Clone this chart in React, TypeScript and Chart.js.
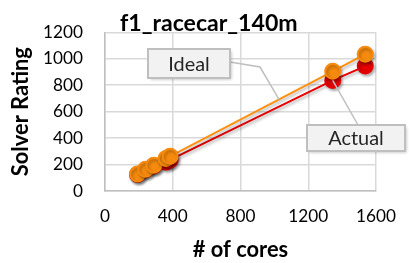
import React, { useEffect, useRef } from "react";
import { Chart, registerables } from "chart.js";

Chart.register(...registerables);

const cores = [192, 240, 288, 360, 384, 1344, 1536];
const idealValues = [128, 165, 195, 245, 262, 905, 1035];
const actualValues = [125, 160, 190, 218, 235, 836, 945];
const xTicks = [0, 400, 800, 1200, 1600];
const yTicks = [0, 200, 400, 600, 800, 1000, 1200];
const chartTitle = "f1_racecar_140m";
const xTitle = "# of cores";
const yTitle = "Solver Rating";
const idealLabel = "Ideal";
const actualLabel = "Actual";

const ORANGE = "#F68A0E";
const RED = "#E60000";
const FONT = "Lato, 'Liberation Sans', sans-serif";

function fitSize(text: string, weight: string, target: number): number {
  const c = document.createElement("canvas").getContext("2d")!;
  c.font = `${weight} 100px ${FONT}`;
  const w = c.measureText(text).width;
  return Math.round((target / w) * 100 * 10) / 10;
}

export default function App() {
  const ref = useRef<HTMLCanvasElement>(null);
  useEffect(() => {
    document.body.style.margin = "0";
    const canvas = ref.current!;
    const tickSize = fitSize("1200", "normal", 40);
    const titleSize = fitSize(chartTitle, "bold", 178);
    const xTitleSize = fitSize(xTitle, "bold", 97);
    const yTitleSize = fitSize(yTitle, "bold", 127);
    const axisTitleSize = (xTitleSize + yTitleSize) / 2;
    const labelSize = (fitSize(idealLabel, "normal", 42) + fitSize(actualLabel, "normal", 55)) / 2;

    const drawBox = (ctx: CanvasRenderingContext2D, x: number, y: number, w: number, h: number, text: string) => {
      ctx.save();
      ctx.shadowColor = "rgba(0,0,0,0.25)";
      ctx.shadowBlur = 3;
      ctx.shadowOffsetX = 1.5;
      ctx.shadowOffsetY = 1.5;
      ctx.fillStyle = "#F2F2F2";
      ctx.fillRect(x, y, w, h);
      ctx.restore();
      ctx.save();
      ctx.strokeStyle = "#BFBFBF";
      ctx.lineWidth = 2;
      ctx.strokeRect(x, y, w, h);
      ctx.fillStyle = "#262626";
      ctx.font = `${labelSize}px ${FONT}`;
      ctx.textAlign = "center";
      ctx.textBaseline = "middle";
      ctx.fillText(text, x + w / 2, y + h / 2 + 1);
      ctx.restore();
    };

    const annotationPlugin = {
      id: "annotations",
      afterDatasetsDraw(chart: any) {
        const ctx = chart.ctx as CanvasRenderingContext2D;
        const xs = chart.scales.x;
        const ys = chart.scales.y;
        ctx.save();
        ctx.fillStyle = "#000";
        ctx.font = `bold ${titleSize}px ${FONT}`;
        ctx.textAlign = "left";
        ctx.textBaseline = "alphabetic";
        ctx.fillText(chartTitle, 120, 31);
        ctx.restore();

        const ix0 = xs.getPixelForValue(cores[4]);
        const iy0 = ys.getPixelForValue(idealValues[4]);
        const ix1 = xs.getPixelForValue(cores[5]);
        const iy1 = ys.getPixelForValue(idealValues[5]);
        const t = 0.67;
        const ax = ix0 + (ix1 - ix0) * t;
        const ay = iy0 + (iy1 - iy0) * t;
        ctx.save();
        ctx.strokeStyle = "#BFBFBF";
        ctx.lineWidth = 1.5;
        ctx.beginPath();
        ctx.moveTo(230, 62);
        ctx.lineTo(260, 67);
        ctx.lineTo(ax, ay);
        ctx.stroke();
        const rx = xs.getPixelForValue(cores[5]);
        const ry = ys.getPixelForValue(actualValues[5]);
        ctx.beginPath();
        ctx.moveTo(rx, ry);
        ctx.lineTo(358, 125);
        ctx.stroke();
        ctx.restore();

        drawBox(ctx, 148, 49, 82, 29, idealLabel);
        drawBox(ctx, 307, 125, 98, 26, actualLabel);
      },
    };

    const shadowPlugin = {
      id: "markerShadow",
      beforeDatasetsDraw(chart: any) {
        const ctx = chart.ctx;
        ctx.save();
        ctx.shadowColor = "rgba(0,0,0,0.3)";
        ctx.shadowBlur = 3;
        ctx.shadowOffsetX = 1.5;
        ctx.shadowOffsetY = 2;
      },
      afterDatasetsDraw(chart: any) {
        chart.ctx.restore();
      },
    };

    const chart = new Chart(canvas, {
      type: "line",
      data: {
        datasets: [
          {
            label: idealLabel,
            data: cores.map((c, i) => ({ x: c, y: idealValues[i] })),
            borderColor: "#FF9010",
            backgroundColor: ORANGE,
            pointBackgroundColor: ORANGE,
            pointBorderColor: ORANGE,
            borderWidth: 2,
            pointRadius: 7.5,
            pointHoverRadius: 7.5,
            clip: false as any,
          },
          {
            label: actualLabel,
            data: cores.map((c, i) => ({ x: c, y: actualValues[i] })),
            borderColor: RED,
            backgroundColor: RED,
            pointBackgroundColor: RED,
            pointBorderColor: RED,
            borderWidth: 2,
            pointRadius: 7.5,
            pointHoverRadius: 7.5,
            clip: false as any,
          },
        ],
      },
      options: {
        responsive: false,
        animation: false,
        events: [],
        layout: { padding: { top: 15, right: 24, left: 0, bottom: 0 } },
        plugins: {
          legend: { display: false },
          tooltip: { enabled: false },
          title: { display: false },
        },
        scales: {
          x: {
            type: "linear",
            min: 0,
            max: 1600,
            afterBuildTicks: (s: any) => {
              s.ticks = xTicks.map((v) => ({ value: v }));
            },
            afterFit: (s: any) => {
              s.height = 72;
            },
            grid: { color: "#D9D9D9", lineWidth: 1.5, drawTicks: false },
            border: { color: "#BFBFBF", width: 1.5 },
            ticks: {
              padding: 15,
              color: "#000",
              font: { family: FONT, size: tickSize },
              maxRotation: 0,
              callback: (v: any) => String(v),
            },
            title: {
              display: true,
              text: xTitle,
              color: "#000",
              font: { family: FONT, size: axisTitleSize, weight: "bold" },
              padding: { top: 0, bottom: 0 },
            },
          },
          y: {
            type: "linear",
            min: 0,
            max: 1200,
            afterBuildTicks: (s: any) => {
              s.ticks = yTicks.map((v) => ({ value: v }));
            },
            afterFit: (s: any) => {
              s.width = 105;
            },
            grid: { color: "#D9D9D9", lineWidth: 1.5, drawTicks: false },
            border: { color: "#BFBFBF", width: 1.5 },
            ticks: {
              padding: 22,
              color: "#000",
              font: { family: FONT, size: tickSize },
              callback: (v: any) => String(v),
            },
            title: {
              display: true,
              text: yTitle,
              color: "#000",
              font: { family: FONT, size: axisTitleSize, weight: "bold" },
              padding: { top: 8, bottom: 0 },
            },
          },
        },
      },
      plugins: [shadowPlugin, annotationPlugin],
    });
    return () => chart.destroy();
  }, []);
  return <canvas ref={ref} width={411} height={263} style={{ display: "block" }} />;
}
